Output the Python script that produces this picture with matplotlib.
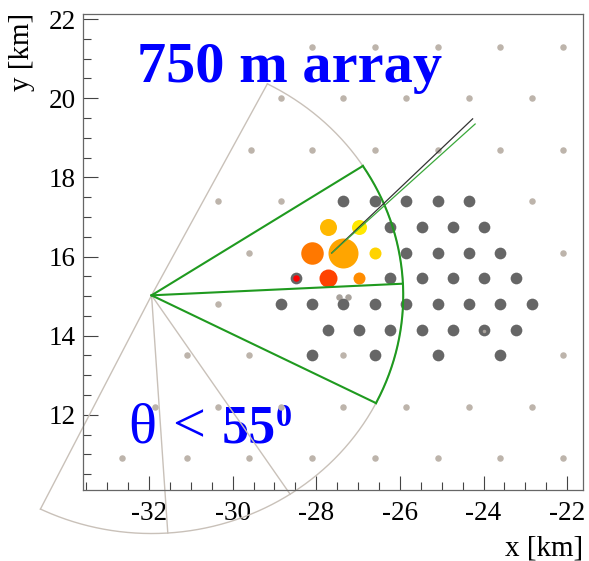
import numpy as np
import matplotlib
matplotlib.use('Agg')
import matplotlib.pyplot as plt
from matplotlib.ticker import MultipleLocator
from matplotlib.font_manager import FontProperties

plt.rcParams['font.family'] = ['Liberation Serif', 'DejaVu Serif']
plt.rcParams['axes.unicode_minus'] = False

# 1500 m grid stations (light grey), row by row
GRID_ROWS = [
    (21.3, [-28.1, -26.6, -25.1, -23.6, -22.1]),
    (20.0, [-28.85, -27.35, -25.85, -24.35, -22.85]),
    (18.7, [-29.55, -28.1, -26.6, -25.1, -23.6, -22.1]),
    (17.4, [-30.35, -28.85, -22.85]),
    (16.1, [-29.6, -22.1]),
    (14.8, [-30.35]),
    (13.5, [-31.1, -29.6, -27.35, -22.1]),
    (12.2, [-31.85, -30.35, -28.85, -27.35, -25.85, -24.35, -22.85]),
    (10.9, [-32.65, -31.1, -29.6, -28.1, -26.6, -25.1, -23.6, -22.1]),
]
# extra small grey marks sitting on the infill
EXTRA_GREY_X = [-27.45, -27.25, -23.98]
EXTRA_GREY_Y = [14.97, 14.97, 14.12]
EXTRA_GREY_D = [6.5, 6.5, 3.5]

# 750 m infill stations (dark grey)
INFILL_ROWS = [
    (17.4, [-27.35, -26.6, -25.85, -25.1, -24.35]),
    (16.75, [-26.23, -25.48, -24.73, -23.98]),
    (16.1, [-25.85, -25.1, -24.35, -23.6]),
    (15.45, [-28.48, -26.23, -25.48, -24.73, -23.98, -23.23]),
    (14.8, [-28.85, -28.1, -27.35, -26.6, -25.85, -25.1, -24.35, -23.6, -22.85]),
    (14.15, [-27.73, -26.98, -26.23, -25.48, -24.73, -23.98, -23.23]),
    (13.5, [-28.1, -26.6, -25.1, -23.6]),
]

# triggered stations: x, y, marker diameter (px), colour
HIT_X = [-27.35, -28.1, -27.73, -26.97, -26.6, -27.73, -26.97, -28.48]
HIT_Y = [16.1, 16.1, 16.75, 16.75, 16.1, 15.45, 15.45, 15.45]
HIT_D = [30, 22.5, 17, 15, 12, 18, 12, 6.5]
HIT_C = ['#ffa500', '#ff7800', '#ffb800', '#ffe800', '#ffd300',
         '#ff4200', '#ff8c00', '#ff0000']

# sector geometry
APEX = (-31.94, 15.02)
RADIUS = 6.02
GREY_RAYS = [62.6, -56.6, -86.3, -116.2]
GREY_ARC = (62.6, -116.2)
GREEN_RAYS = [32.9, 2.8, -26.9]
GREEN_ARC = (32.9, -26.9)

# shower axis
CORE = (-27.63, 16.09)
AXIS_BLACK_END = (-24.26, 19.48)
AXIS_GREEN_END = (-24.2, 19.35)

GREY = '#bdb4ab'
DARK = '#666666'
GREEN = '#1f9a1f'
LINE_GREY = '#c9c1b9'
BLUE = '#0000ff'

PX = 0.72  # points per pixel at dpi 100


def arc(a0, a1):
    t = np.radians(np.linspace(a0, a1, 200))
    return APEX[0] + RADIUS * np.cos(t), APEX[1] + RADIUS * np.sin(t)


fig = plt.figure(figsize=(5.89, 5.61), dpi=100)
ax = fig.add_axes([83 / 589, 1 - 490 / 561, 500 / 589, 476 / 561])

# grey sectors
for a in GREY_RAYS:
    t = np.radians(a)
    ax.plot([APEX[0], APEX[0] + RADIUS * np.cos(t)], [APEX[1], APEX[1] + RADIUS * np.sin(t)],
            color=LINE_GREY, lw=1, clip_on=False, zorder=2)
xa, ya = arc(*GREY_ARC)
ax.plot(xa, ya, color=LINE_GREY, lw=1, clip_on=False, zorder=2)

# green sector
for a in GREEN_RAYS:
    t = np.radians(a)
    ax.plot([APEX[0], APEX[0] + RADIUS * np.cos(t)], [APEX[1], APEX[1] + RADIUS * np.sin(t)],
            color=GREEN, lw=1.5, clip_on=False, zorder=6)
xa, ya = arc(*GREEN_ARC)
ax.plot(xa, ya, color=GREEN, lw=1.5, clip_on=False, zorder=6)

# stations
for y, xs in GRID_ROWS:
    ax.plot(xs, [y] * len(xs), 'o', ms=6.5 * PX, color=GREY, mec='none', zorder=3)
for y, xs in INFILL_ROWS:
    ax.plot(xs, [y] * len(xs), 'o', ms=11.7 * PX, color=DARK, mec='none', zorder=4)
for x, y, d in zip(EXTRA_GREY_X, EXTRA_GREY_Y, EXTRA_GREY_D):
    ax.plot(x, y, 'o', ms=d * PX, color='#a8a29c', mec='none', zorder=3.5 if d > 5 else 4.5)
for x, y, d, c in zip(HIT_X, HIT_Y, HIT_D, HIT_C):
    ax.plot(x, y, 'o', ms=d * PX, color=c, mec='none', zorder=5)

# shower axis
ax.plot([CORE[0], AXIS_BLACK_END[0]], [CORE[1], AXIS_BLACK_END[1]], color='#333333', lw=0.9, zorder=7)
ax.plot([CORE[0], AXIS_GREEN_END[0]], [CORE[1], AXIS_GREEN_END[1]], color='#3aa83a', lw=0.9, zorder=7)

# labels in the frame
bold = FontProperties(family='Liberation Serif', weight='bold')
ax.text(-32.3, 20.41, '750 m array', color=BLUE, fontproperties=bold, fontsize=42,
        ha='left', va='baseline', zorder=1)
ax.text(-32.5, 11.31, 'θ', color=BLUE, fontsize=42, ha='left', va='baseline', zorder=1)
ax.text(-31.45, 11.31, '<', color=BLUE, fontsize=42, ha='left', va='baseline', zorder=1)
ax.text(-30.26, 11.31, '55', color=BLUE, fontproperties=bold, fontsize=39, ha='left',
        va='baseline', zorder=1)
ax.text(-28.97, 11.73, '0', color=BLUE, fontproperties=bold, fontsize=23, ha='left',
        va='baseline', zorder=1)

ax.set_xlim(-33.58, -21.62)
ax.set_ylim(10.1, 22.13)
ax.xaxis.set_major_locator(MultipleLocator(2))
ax.xaxis.set_minor_locator(MultipleLocator(0.5))
ax.yaxis.set_major_locator(MultipleLocator(2))
ax.yaxis.set_minor_locator(MultipleLocator(0.5))
ax.tick_params(which='both', direction='in', color='#444444', width=0.8, labelsize=19.5)
ax.tick_params(axis='x', which='major', length=10, pad=8)
ax.tick_params(axis='y', which='major', length=11, pad=5)
ax.tick_params(which='minor', length=5.5)
for s in ax.spines.values():
    s.set_color('#666666')
    s.set_linewidth(0.9)

fig.text(22 / 589, 1 - 13 / 561, 'y [km]', rotation=90, ha='center', va='top', fontsize=21)
fig.text(583 / 589, 1 - 556 / 561, 'x [km]', ha='right', va='baseline', fontsize=21)

plt.savefig('out.png', dpi=100)
